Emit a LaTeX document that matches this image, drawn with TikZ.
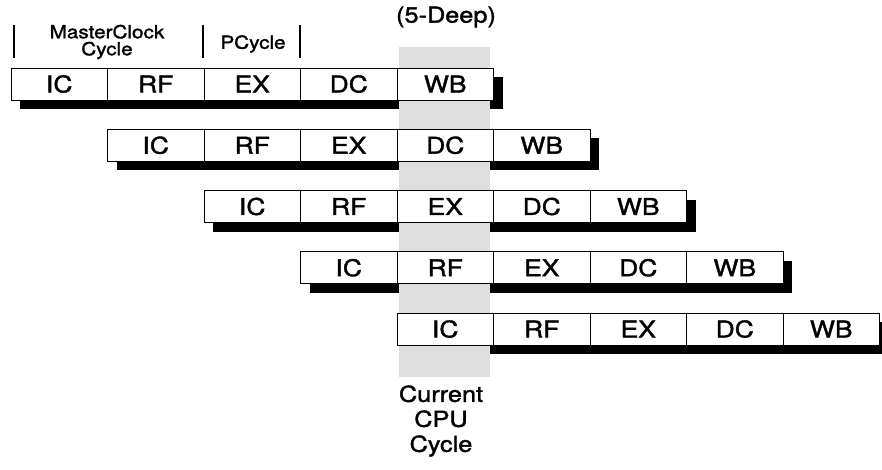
\documentclass[tikz,border=0pt]{standalone}
\usepackage{fontspec}
\setmainfont{TeX Gyre Heros}[FakeStretch=1.15, FakeBold=1.6]
\usepackage{tikz}
\usetikzlibrary{positioning}

\tikzset{
  stagebox/.style={draw, fill=white, line width=0.8pt, inner sep=0pt,
    minimum width=96.5pt, minimum height=32pt,
    font=\fontsize{23}{23}\selectfont},
  headtext/.style={align=center, inner sep=0pt,
    font=\fontsize{18}{17}\selectfont},
  bigtext/.style={align=center, inner sep=0pt,
    font=\fontsize{22}{25}\selectfont},
  tick/.style={line width=1.2pt}
}

\begin{document}
\begin{tikzpicture}[x=1pt, y=-1pt]
\useasboundingbox (0,0) rectangle (882,469);
% shadows
\foreach \r in {1,...,5} {
  \pgfmathsetmacro\xl{11+96.5*(\r-1)}
  \pgfmathsetmacro\yt{68+61.25*(\r-1)}
  \fill (\xl+9,\yt+9) rectangle ++(482.5,32);
}
% current cycle column
\fill[black!13] (399,47) rectangle (490,377);
% pipeline stages
\foreach \r in {1,...,5} {
  \pgfmathsetmacro\xl{11+96.5*(\r-1)}
  \pgfmathsetmacro\yt{68+61.25*(\r-1)}
  \foreach \s [count=\c] in {IC,RF,EX,DC,WB}
    \node[stagebox] (r\r\s) at (\xl+96.5*\c-48.25,\yt+16) {\s};
}
% header
\node[headtext] (master) at (107,42) {MasterClock\\Cycle};
\node[headtext] (pcycle) at (253,44) {PCycle};
\node[bigtext] (deep) at (446,17) {(5-Deep)};
\coordinate (t1) at (14,25);
\coordinate (t2) at (203,25);
\coordinate (t3) at (300,25);
\foreach \t in {t1,t2,t3}
  \draw[tick] (\t) -- ++(0,33);
\node[bigtext] (current) at (441,421) {Current\\CPU\\Cycle};
\end{tikzpicture}
\end{document}
